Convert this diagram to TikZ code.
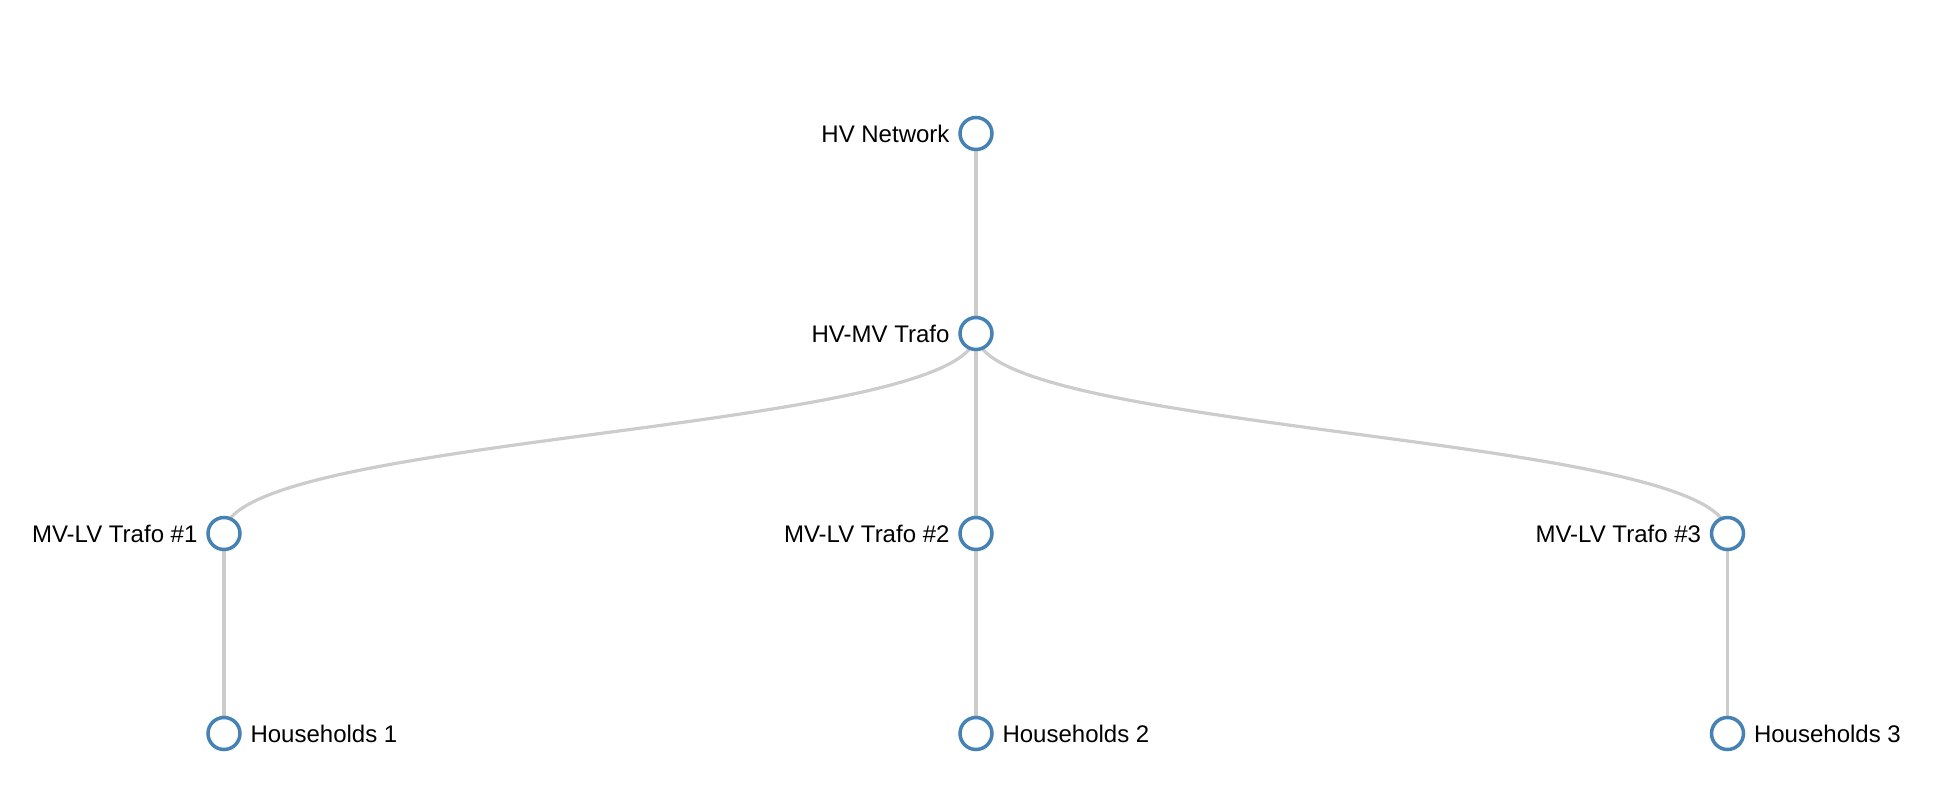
\documentclass[tikz,border=0pt]{standalone}
\usepackage{fontspec}
\setmainfont{Liberation Sans}
\usetikzlibrary{positioning,backgrounds}
\definecolor{steelblue}{HTML}{4682B4}
\definecolor{linkgrey}{HTML}{CCCCCC}

\begin{document}
\begin{tikzpicture}[x=0.5pt,y=-0.5pt,
  knot/.style={circle,draw=steelblue,fill=white,line width=1.75pt,minimum size=16pt,inner sep=0pt},
  link/.style={draw=linkgrey,line width=1.6pt},
  tag/.style={inner sep=0pt,text depth=0pt,font=\fontsize{12}{14}\selectfont},
  node distance=4.2pt]
\useasboundingbox (0,0) rectangle (1940,786);
\pgfmathsetmacro{\xa}{224};
\pgfmathsetmacro{\xb}{976};
\pgfmathsetmacro{\xc}{1727.5};

\node[knot] (hv) at (\xb,133.5) {};
\node[knot] (hvmv) at (\xb,333.5) {};
\node[knot] (mvlv1) at (\xa,533.5) {};
\node[knot] (mvlv2) at (\xb,533.5) {};
\node[knot] (mvlv3) at (\xc,533.5) {};
\node[knot] (hh1) at (\xa,733.5) {};
\node[knot] (hh2) at (\xb,733.5) {};
\node[knot] (hh3) at (\xc,733.5) {};

\node[tag, left=of hv] (hvtxt) {HV Network};
\node[tag, left=of hvmv] (hvmvtxt) {HV-MV Trafo};
\node[tag, left=of mvlv1] (mvlv1txt) {MV-LV Trafo \#1};
\node[tag, left=of mvlv2] (mvlv2txt) {MV-LV Trafo \#2};
\node[tag, left=of mvlv3] (mvlv3txt) {MV-LV Trafo \#3};
\node[tag, right=of hh1] (hh1txt) {Households 1};
\node[tag, right=of hh2] (hh2txt) {Households 2};
\node[tag, right=of hh3] (hh3txt) {Households 3};

\coordinate (mid) at (\xb,433.5);

\begin{scope}[on background layer]
\draw[link] (hv.center) -- (hvmv.center);
\draw[link] (hvmv.center) .. controls (hvmv |- mid) and (mvlv1 |- mid) .. (mvlv1.center);
\draw[link] (hvmv.center) -- (mvlv2.center);
\draw[link] (hvmv.center) .. controls (hvmv |- mid) and (mvlv3 |- mid) .. (mvlv3.center);
\draw[link] (mvlv1.center) -- (hh1.center);
\draw[link] (mvlv2.center) -- (hh2.center);
\draw[link] (mvlv3.center) -- (hh3.center);
\end{scope}
\end{tikzpicture}
\end{document}
